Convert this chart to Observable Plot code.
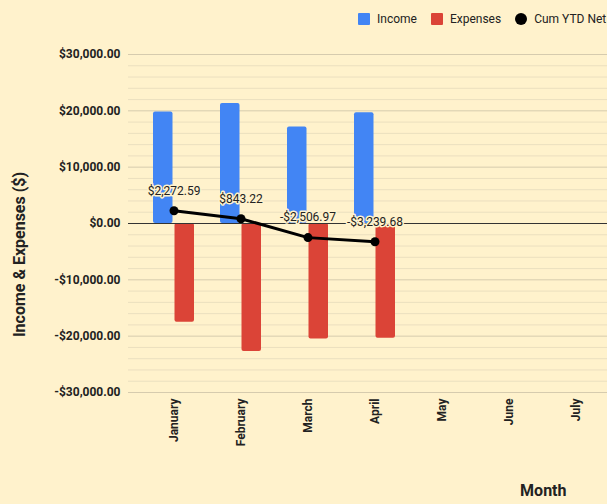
<!DOCTYPE html>
<html><head><meta charset="utf-8">
<script src="https://cdn.jsdelivr.net/npm/d3@7"></script>
<script src="https://cdn.jsdelivr.net/npm/@observablehq/plot@0.6"></script>
<style>
html,body{margin:0;padding:0;background:#fff2cc;}
body{width:607px;height:504px;overflow:hidden;font-family:Roboto,sans-serif;}
#legend{height:38px;display:flex;align-items:center;gap:14px;padding-left:358px;padding-top:0;box-sizing:border-box;font-size:12px;color:#222;white-space:nowrap;overflow:hidden;}
.item{display:flex;align-items:center;gap:7px;}
.sw{width:12px;height:12px;border-radius:1px;}
.sw.c{border-radius:50%;}
svg{display:block;}
</style>
</head><body>
<div id="legend"></div>
<script>
const months = ["January","February","March","April","May","June","July"];
const dataMonths = ["January","February","March","April"];
const income = [19800, 21300, 17150, 19650];
const expenses = [-17530, -22730, -20500, -20380];
const cumNet = [2272.59, 843.22, -2506.97, -3239.68];
const yTicks = [-30000,-20000,-10000,0,10000,20000,30000];
const seriesNames = ["Income","Expenses","Cum YTD Net"];
const seriesColors = ["#4285f4","#db4437","#000000"];

const legend = document.getElementById("legend");
seriesNames.forEach((n,i)=>{
  const it = document.createElement("div"); it.className="item";
  const sw = document.createElement("div"); sw.className = "sw" + (i===2?" c":""); sw.style.background = seriesColors[i];
  const tx = document.createElement("span"); tx.textContent = n;
  it.appendChild(sw); it.appendChild(tx); legend.appendChild(it);
});

const rows = dataMonths.map((m,i)=>({month:m, income:income[i], expenses:expenses[i], net:cumNet[i]}));
const minor = d3.range(-30000, 30001, 2000).filter(v => v % 10000 !== 0);
const fmt = v => (v < 0 ? "-" : "") + "$" + d3.format(",.2f")(Math.abs(v));

const chart = Plot.plot({
  width: 607, height: 466,
  marginTop: 16, marginBottom: 112, marginLeft: 128, marginRight: 0,
  style: {background: "transparent", fontFamily: "Roboto, sans-serif", overflow: "visible"},
  x: {domain: months, range: [138.2, 610.7], padding: 0},
  y: {domain: [-30000, 30000]},
  marks: [
    Plot.ruleY(minor, {stroke: "#ebdfbf"}),
    Plot.ruleY(yTicks, {stroke: "#d6cbae"}),
    Plot.barY(rows, {x: "month", y: "income", fill: seriesColors[0], insetLeft: 13, insetRight: 34.5, rx: 2}),
    Plot.barY(rows, {x: "month", y: "expenses", fill: seriesColors[1], insetLeft: 34.5, insetRight: 13, rx: 2}),
    Plot.ruleY([0], {stroke: "#333"}),
    Plot.line(rows, {x: "month", y: "net", stroke: seriesColors[2], strokeWidth: 3}),
    Plot.dot(rows, {x: "month", y: "net", fill: seriesColors[2], r: 4.5}),
    Plot.text(rows, {x: "month", y: "net", text: d => fmt(d.net), dy: -20, fontSize: 12, fill: "#222", stroke: "#fff2cc", strokeWidth: 3, paintOrder: "stroke"}),
    Plot.axisY(yTicks, {tickFormat: fmt, tickSize: 0, tickPadding: 8, fontSize: 12, fontWeight: "bold", fill: "#222", label: null}),
    Plot.axisX({tickRotate: -90, tickSize: 0, tickPadding: 6, fontSize: 12, fontWeight: "bold", fill: "#222", label: null}),
    Plot.text(["Income & Expenses ($)"], {frameAnchor: "left", textAnchor: "middle", rotate: -90, dx: -109, dy: 31, fontSize: 16, fontWeight: "bold", fill: "#222"}),
    Plot.text(["Month"], {frameAnchor: "bottom-right", dx: -41, dy: 103, fontSize: 16, fontWeight: "bold", fill: "#222"})
  ]
});
document.body.appendChild(chart);
</script>
</body></html>
